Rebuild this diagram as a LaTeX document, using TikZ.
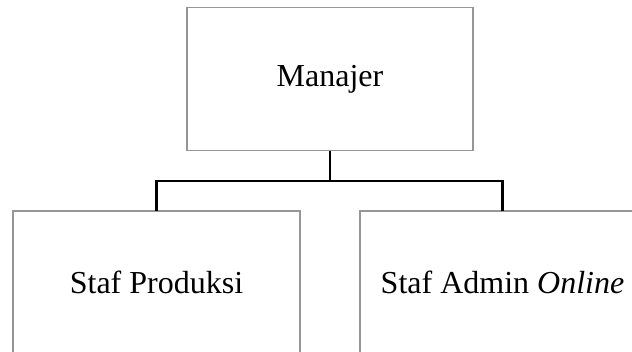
\documentclass[tikz,border=0pt]{standalone}
\usepackage{fontspec}
\setmainfont{Liberation Serif}
\definecolor{boxgray}{RGB}{150,150,150}
\tikzset{
  orgbox/.style={draw=boxgray, line width=0.8pt, inner sep=0pt, outer sep=0pt,
    minimum width=#1, align=center, font=\fontsize{24}{28}\selectfont},
  conn/.style={draw=black, line width=1.6pt}
}
\begin{document}
\begin{tikzpicture}[x=0.75pt, y=-0.75pt]
\useasboundingbox (0,0) rectangle (632,351);
\clip (0,0) rectangle (632,351);
\node[orgbox=214.5pt, minimum height=107.25pt] (man) at (330,79) {Manajer};
\node[orgbox=215.25pt, minimum height=106.5pt] (prod) at (156.5,282) {Staf Produksi};
\node[orgbox=213.75pt, minimum height=106.5pt] (admin) at (502.5,282) {Staf Admin \textit{Online}};
\coordinate (j) at (330,181);
\draw[conn] (man.south) -- (j);
\draw[conn] (prod.north) |- (j) -| (admin.north);
\end{tikzpicture}
\end{document}
